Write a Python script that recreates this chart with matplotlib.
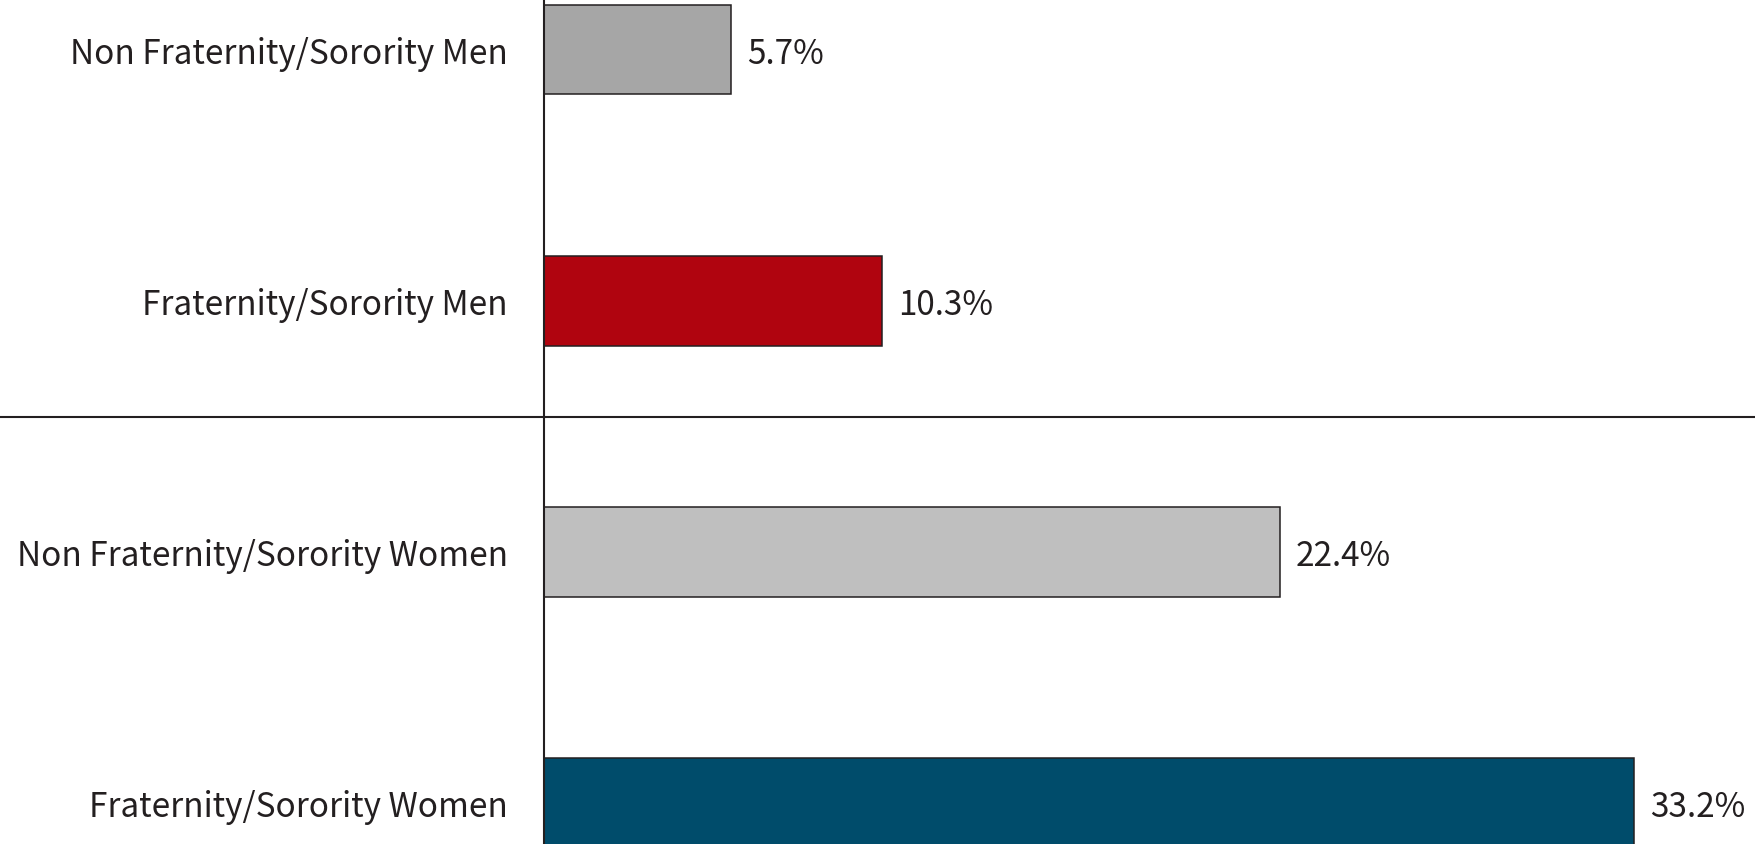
import matplotlib.pyplot as plt

plt.rcParams["font.family"] = ["Noto Sans CJK SC", "DejaVu Sans"]

# ── Data ──────────────────────────────────────────────────────────────────────
categories = [
    "Non Fraternity/Sorority Men",
    "Fraternity/Sorority Men",
    "Non Fraternity/Sorority Women",
    "Fraternity/Sorority Women",
]
values = [5.7, 10.3, 22.4, 33.2]
colors = ["#a6a6a6", "#b0040f", "#bfbfbf", "#004c6b"]

TEXT = "#231f20"
EDGE = "#231f20"
FS = 24

# ── Figure ────────────────────────────────────────────────────────────────────
W, H = 1755, 845
AX_LEFT = 543.7  # px, position of the vertical axis line

fig = plt.figure(figsize=(W / 100, H / 100), dpi=100)
fig.patch.set_facecolor("white")
ax = fig.add_axes([AX_LEFT / W, 0, 1 - AX_LEFT / W, 1])

ypos = list(range(len(categories)))
ax.barh(ypos, values, height=0.358, color=colors, edgecolor=EDGE, linewidth=1.1, zorder=2)

# scale: ~32.85 px per percentage point
ax.set_xlim(0, (W - AX_LEFT) / 32.85)
ax.set_ylim(3.164, -0.201)

for y, v in zip(ypos, values):
    ax.annotate(f"{v}%", (v, y), xytext=(11.5, -3), textcoords="offset points",
                ha="left", va="center", fontsize=FS, color=TEXT)

ax.set_yticks(ypos)
ax.set_yticklabels(categories, fontsize=FS, color=TEXT)
ax.tick_params(axis="y", length=0, pad=26)
ax.set_xticks([])

for s in ["top", "right", "bottom"]:
    ax.spines[s].set_visible(False)
ax.spines["left"].set_color(EDGE)
ax.spines["left"].set_linewidth(1.5)

# divider between men and women groups, spans the full width
ax.axhline(1.462, xmin=-AX_LEFT / (W - AX_LEFT), xmax=1, color=EDGE, lw=1.5, clip_on=False, zorder=3)

fig.savefig("out.png", dpi=100, facecolor="white")
